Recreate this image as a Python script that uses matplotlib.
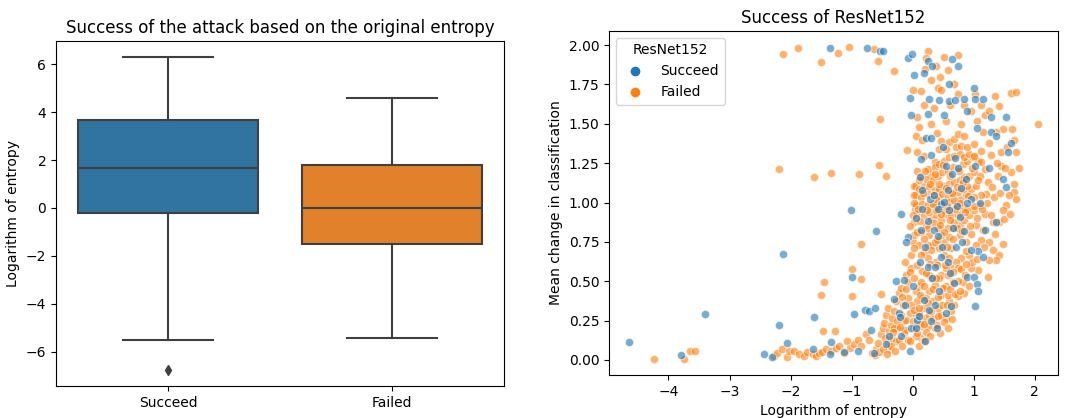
import matplotlib
matplotlib.use("Agg")
import matplotlib.pyplot as plt
from matplotlib.lines import Line2D
import numpy as np

# box summary of log-entropy per attack outcome
groups = ["Succeed", "Failed"]
box_med = [1.65, -0.02]
box_q1 = [-0.22, -1.50]
box_q3 = [3.68, 1.78]
box_low = [-5.50, -5.42]
box_high = [6.32, 4.58]
box_fliers = [[-6.78], []]

# (log entropy, mean change in classification) per image
succeed_pts = [
    (-4.64, 0.116), (-3.79, 0.03), (-3.40, 0.29), (-2.44, 0.036), (-2.31, 0.02), (-2.19, 0.225),
    (-2.12, 0.673), (-2.05, 0.11), (-1.64, 0.07), (-1.61, 0.27), (-1.35, 0.04), (-1.34, 0.115),
    (-1.13, 0.05), (-1.01, 0.95), (-1.00, 0.53), (-0.96, 0.295), (-0.89, 0.06), (-0.78, 0.315),
    (-0.71, 0.31), (-0.68, 0.19), (-0.60, 0.82), (-0.61, 0.33), (-1.36, 1.98), (-0.74, 1.98),
    (-0.53, 1.96), (-0.49, 1.96), (-0.08, 1.92), (-0.01, 1.945), (0.02, 1.81), (0.18, 1.82),
    (0.26, 1.90), (0.32, 1.87), (0.65, 1.91), (0.74, 1.87), (-0.04, 1.665), (-0.03, 1.556),
    (0.25, 1.56), (0.27, 1.655), (0.43, 1.65), (0.59, 1.645), (0.70, 1.65), (0.60, 1.755),
    (0.84, 1.655), (1.00, 1.73), (1.02, 1.655), (1.16, 1.655), (0.90, 1.58), (0.52, 1.556),
    (0.22, 1.41), (0.31, 1.41), (1.05, 1.47), (1.29, 1.54), (1.53, 1.545), (1.29, 1.445),
    (1.37, 1.425), (1.62, 1.38), (1.57, 1.32), (0.14, 1.275), (0.12, 1.16), (0.64, 1.18),
    (1.02, 1.235), (1.53, 1.10), (1.48, 1.15), (-0.19, 0.93), (-0.08, 0.78), (0.16, 0.96),
    (0.47, 0.99), (0.78, 0.91), (0.96, 1.02), (1.18, 0.825), (1.37, 0.875), (1.07, 0.69),
    (1.15, 0.655), (0.71, 0.72), (0.81, 0.75), (0.35, 0.825), (0.41, 0.79), (0.25, 0.59),
    (0.36, 0.59), (0.47, 0.655), (0.58, 0.625), (0.90, 0.53), (1.01, 0.53), (1.06, 0.48),
    (1.07, 0.435), (1.02, 0.34), (-0.27, 0.50), (-0.14, 0.51), (0.00, 0.47), (-0.30, 0.39),
    (-0.22, 0.30), (-0.21, 0.27), (-0.19, 0.15), (-0.03, 0.20), (0.08, 0.255), (0.30, 0.245),
    (0.27, 0.32), (0.36, 0.35), (0.44, 0.435), (0.55, 0.30), (0.63, 0.34), (0.68, 0.49),
    (-0.63, 0.046), (-0.44, 0.10), (-0.38, 0.15), (0.29, 1.02), (0.52, 1.005), (0.80, 1.09),
    (0.90, 1.00), (0.14, 0.825), (0.88, 1.15), (0.70, 1.28), (0.35, 1.05), (0.60, 0.95),
    (1.25, 1.22), (0.55, 1.23), (0.12, 0.62), (0.20, 0.72), (-0.10, 0.75), (0.05, 0.20),
    (0.05, 0.90), (0.15, 1.08), (0.25, 0.88), (0.42, 0.96), (0.48, 0.72), (0.58, 1.08),
    (0.66, 0.84), (0.72, 0.98), (0.85, 0.82), (0.95, 0.70), (0.32, 0.52), (0.18, 0.38),
    (0.10, 0.28), (-0.12, 0.35), (0.40, 0.20), (0.62, 0.55), (0.75, 1.22), (1.10, 1.00),
    (0.30, 1.30), (0.50, 1.35), (0.20, 0.12), (-0.05, 0.06),
]

failed_pts = [
    (-4.23, 0.008), (-3.74, 0.004), (-3.64, 0.06), (-3.56, 0.057), (-2.13, 1.943), (-1.87, 1.98),
    (-1.50, 1.895), (-1.23, 1.95), (-1.05, 1.99), (-0.63, 1.975), (-0.56, 1.897), (-0.31, 1.834),
    (-2.19, 1.21), (-1.61, 1.16), (-1.34, 1.186), (-0.88, 1.178), (-0.55, 1.24), (-0.44, 1.167),
    (-0.53, 1.533), (-0.84, 0.736), (-0.99, 0.578), (-0.84, 0.517), (-1.45, 0.498), (-1.50, 0.414),
    (-1.00, 0.404), (-1.47, 0.183), (-1.27, 0.183), (-0.52, 0.42),
    (-2.27, 0.025), (-2.22, 0.046), (-2.14, 0.067), (-2.05, 0.02), (-2.03, 0.057), (-1.95, 0.057),
    (-1.86, 0.036), (-1.78, 0.025), (-1.73, 0.05), (-1.64, 0.036), (-1.59, 0.025), (-1.53, 0.046),
    (-1.48, 0.05), (-1.42, 0.067), (-1.34, 0.057), (-1.26, 0.078), (-1.21, 0.088), (-1.12, 0.046),
    (-1.08, 0.12), (-1.02, 0.078), (-0.96, 0.103), (-0.90, 0.124), (-0.84, 0.088), (-0.77, 0.162),
    (-0.71, 0.13), (-0.66, 0.046), (-0.60, 0.067), (-0.56, 0.109), (-0.52, 0.162), (-0.49, 0.204),
    (-0.47, 0.236), (-0.44, 0.288), (-0.41, 0.33), (-0.41, 0.109), (-0.38, 0.183), (-0.36, 0.225),
    (-0.33, 0.267), (-0.30, 0.309), (-0.27, 0.372), (-0.25, 0.204), (-0.22, 0.425), (-0.19, 0.456),
    (-0.16, 0.351), (-0.14, 0.246), (-0.12, 0.625), (-0.11, 0.54), (-0.08, 0.393), (-0.05, 0.299),
    (-0.03, 0.583), (-0.02, 0.667), (0.00, 0.75), (0.02, 0.793), (0.03, 0.877), (0.04, 0.961),
    (0.05, 1.045), (0.05, 1.108), (0.07, 1.203), (0.05, 1.424), (0.07, 1.54), (0.14, 1.708),
    (0.00, 1.712), (0.08, 1.319), (0.19, 1.298), (-0.09, 1.333), (0.30, 1.175), (0.36, 1.256),
    (0.44, 1.34), (0.41, 1.729), (0.47, 1.712), (0.26, 1.96), (0.22, 1.918), (0.38, 1.865),
    (0.52, 1.924), (0.58, 1.844), (0.74, 1.939), (0.68, 1.754), (0.74, 1.687), (0.85, 1.617),
    (1.02, 1.687), (1.12, 1.617), (1.18, 1.554), (1.26, 1.58), (1.35, 1.676), (1.42, 1.61),
    (1.62, 1.697), (1.70, 1.701), (2.05, 1.497), (1.48, 1.466), (1.63, 1.466), (1.26, 1.38),
    (1.45, 1.319), (1.67, 1.40), (1.70, 1.319), (1.75, 1.218), (1.62, 1.192), (1.67, 1.119),
    (1.67, 1.066), (1.70, 1.024), (1.53, 0.982), (1.48, 0.951), (1.34, 1.035), (1.20, 1.056),
    (1.23, 1.129), (1.40, 1.171), (1.45, 1.234), (1.42, 0.877), (1.50, 0.898), (1.32, 0.877),
    (1.18, 0.93), (1.15, 0.826), (1.12, 0.761), (1.26, 0.751), (1.32, 0.698), (1.48, 0.734),
    (1.42, 0.667), (1.37, 0.635), (1.26, 0.635), (1.23, 0.53), (1.07, 0.572), (0.96, 0.583),
    (0.82, 0.498), (0.85, 0.425), (0.74, 0.404), (0.68, 0.351), (0.60, 0.372), (0.55, 0.267),
    (0.63, 0.309), (0.47, 0.288), (0.36, 0.204), (0.25, 0.215), (0.14, 0.141), (0.14, 0.215),
    (0.03, 0.204), (0.05, 0.288), (0.19, 0.267), (0.19, 0.33), (0.16, 0.393), (0.27, 0.435),
    (0.36, 0.477), (0.47, 0.54), (0.55, 0.467), (0.44, 0.519), (0.30, 0.519), (0.16, 0.562),
    (0.11, 0.467), (0.08, 0.372), (0.33, 0.73), (0.44, 0.709), (0.52, 0.751), (0.60, 0.782),
    (0.68, 0.835), (0.77, 0.856), (0.85, 0.888), (0.93, 0.919), (1.01, 0.951), (1.04, 0.856),
    (0.96, 0.803), (0.88, 0.751), (0.79, 0.646), (0.71, 0.625), (0.63, 0.583), (0.58, 0.54),
    (0.93, 0.667), (1.04, 0.73), (0.19, 0.688), (0.25, 0.646), (0.11, 0.73), (0.14, 0.814),
    (0.22, 0.856), (0.30, 0.898), (0.38, 0.919), (0.47, 0.888), (0.55, 0.93), (0.63, 0.961),
    (0.71, 0.993), (0.79, 1.024), (0.88, 1.056), (0.96, 1.087), (1.04, 1.108), (1.12, 1.045),
    (1.10, 0.982), (1.01, 1.035),
    (0.03, 1.108), (0.11, 1.087), (0.19, 1.108), (0.27, 1.098), (0.36, 1.077), (0.44, 1.087),
    (0.52, 1.108), (0.60, 1.119), (0.68, 1.129), (0.77, 1.140), (0.85, 1.161), (0.93, 1.171),
    (1.01, 1.192), (1.10, 1.171), (1.18, 1.213),
    (0.03, 1.045), (0.14, 1.035), (0.25, 1.056), (0.33, 1.045), (0.41, 1.035), (0.49, 1.056),
    (0.58, 1.035), (0.66, 1.056), (0.74, 1.066), (0.82, 1.087), (0.90, 1.108),
    (0.05, 0.982), (0.16, 0.993), (0.25, 0.982), (0.36, 0.982), (0.44, 0.961), (0.52, 0.951),
    (0.60, 1.003), (0.68, 1.014), (0.77, 0.951), (0.85, 0.972),
    (0.08, 0.930), (0.19, 0.919), (0.27, 0.940), (0.38, 0.951), (0.47, 0.930), (0.63, 0.919),
    (0.74, 0.919), (0.90, 0.961),
    (0.14, 1.171), (0.22, 1.150), (0.33, 1.140), (0.41, 1.171), (0.49, 1.192), (0.58, 1.203),
    (0.66, 1.224), (0.74, 1.213), (0.82, 1.245), (0.90, 1.266), (0.99, 1.287), (1.07, 1.266),
    (0.25, 1.213), (0.36, 1.224), (0.44, 1.245), (0.52, 1.266), (0.60, 1.287), (0.68, 1.298),
    (0.77, 1.308), (0.85, 1.287), (0.93, 1.308), (1.01, 1.298), (1.12, 1.256),
    (0.47, 1.392), (0.60, 1.382), (0.68, 1.403), (0.74, 1.434), (0.71, 1.350), (0.55, 1.340),
    (0.79, 1.361), (0.90, 1.350), (1.01, 1.371), (1.12, 1.329),
    (0.03, 0.709), (0.14, 0.667), (0.25, 0.730), (0.36, 0.751), (0.47, 0.793), (0.58, 0.835),
    (0.68, 0.877), (0.77, 0.793), (0.41, 0.835), (0.27, 0.793), (0.52, 0.667), (0.63, 0.709),
    (0.74, 0.583), (0.66, 0.498), (0.55, 0.583), (0.38, 0.625), (0.27, 0.540), (0.14, 0.498),
    (0.05, 0.435), (0.22, 0.393), (0.33, 0.372), (0.47, 0.414), (0.58, 0.414), (0.41, 0.330),
    (0.27, 0.288), (0.49, 0.351), (-0.08, 0.498), (-0.03, 0.351), (-0.11, 0.257), (-0.19, 0.288),
    (-0.25, 0.246), (-0.30, 0.204), (-0.33, 0.141), (-0.38, 0.067), (-0.27, 0.120), (-0.14, 0.172),
    (-0.08, 0.130), (0.05, 0.151), (0.11, 0.088),
    (-0.62, 0.03), (-0.55, 0.05), (-0.48, 0.07), (-0.42, 0.04), (-0.35, 0.09), (-0.28, 0.06),
    (-0.22, 0.13), (-0.17, 0.09), (-0.12, 0.19), (-0.05, 0.12), (0.00, 0.25), (0.08, 0.17),
    (0.12, 0.23), (0.18, 0.12), (0.22, 0.18), (0.28, 0.15), (0.33, 0.26), (0.40, 0.22),
    (0.45, 0.17), (0.52, 0.24), (0.58, 0.20), (0.65, 0.26), (-0.45, 0.14), (-0.32, 0.18),
    (-0.20, 0.21), (0.10, 0.30), (0.30, 0.31), (0.42, 0.28), (0.18, 0.23), (0.02, 0.32),
    (-0.18, 0.40), (-0.10, 0.45), (-0.05, 0.56), (0.02, 0.52), (0.07, 0.60), (0.12, 0.41),
    (0.18, 0.47), (0.22, 0.55), (0.28, 0.61), (0.33, 0.45), (0.38, 0.52), (0.42, 0.40),
    (0.50, 0.46), (0.53, 0.60), (0.57, 0.35), (0.62, 0.45), (0.66, 0.56), (0.70, 0.42),
    (0.75, 0.50), (0.80, 0.58), (0.86, 0.54), (0.92, 0.47), (0.97, 0.62), (1.05, 0.64),
    (0.10, 0.33), (0.25, 0.36), (0.40, 0.60), (0.60, 0.65), (0.78, 0.44), (0.88, 0.61),
    (-0.05, 0.85), (0.00, 0.92), (0.02, 1.00), (0.07, 0.81), (0.09, 0.96), (0.10, 1.14),
    (0.12, 0.88), (0.17, 1.06), (0.18, 0.77), (0.21, 1.20), (0.23, 0.95), (0.26, 0.84),
    (0.29, 1.12), (0.31, 0.70), (0.33, 0.99), (0.35, 0.87), (0.37, 1.18), (0.39, 1.02),
    (0.40, 0.76), (0.43, 1.12), (0.45, 0.86), (0.48, 1.00), (0.50, 1.24), (0.51, 0.81),
    (0.54, 1.09), (0.56, 0.72), (0.57, 0.98), (0.61, 1.17), (0.62, 0.89), (0.64, 1.06),
    (0.66, 0.77), (0.69, 0.96), (0.72, 1.10), (0.73, 0.84), (0.76, 1.20), (0.78, 1.00),
    (0.81, 0.82), (0.83, 1.13), (0.86, 0.94), (0.88, 0.69), (0.91, 1.04), (0.94, 0.85),
    (0.97, 1.22), (1.00, 0.98), (1.05, 0.90), (1.08, 1.14), (1.14, 0.96), (1.17, 0.72),
    (1.22, 1.00), (1.28, 0.92), (1.30, 1.10), (1.35, 0.80), (1.38, 1.25), (1.44, 1.06),
    (1.52, 1.22), (1.58, 1.05), (1.60, 0.93), (1.28, 1.30), (1.36, 1.45), (1.55, 1.35),
    (0.10, 1.48), (0.18, 1.62), (0.30, 1.50), (0.35, 1.60), (0.40, 1.44), (0.55, 1.52),
    (0.62, 1.62), (0.80, 1.50), (0.95, 1.58), (1.05, 1.52), (0.20, 1.85), (0.30, 1.78),
    (0.45, 1.80), (0.15, 1.40), (0.85, 1.42), (1.15, 1.45),
]

box_colors = ["#3274a1", "#e1812c"]
line_gray = "#3f3f3f"
blue = "#1f77b4"
orange = "#ff7f0e"

fig = plt.figure(figsize=(10.81, 4.18), dpi=100)
ax1 = fig.add_axes([0.0518, 0.0766, 0.4144, 0.8254])
ax2 = fig.add_axes([0.5634, 0.1029, 0.4154, 0.8230])

# left: boxplot from precomputed stats
stats = []
for i, name in enumerate(groups):
    stats.append(dict(label=name, med=box_med[i], q1=box_q1[i], q3=box_q3[i],
                      whislo=box_low[i], whishi=box_high[i], fliers=box_fliers[i]))
bp = ax1.bxp(stats, positions=[0, 1], widths=0.8, capwidths=0.4, patch_artist=True,
             boxprops=dict(edgecolor=line_gray, linewidth=1.5),
             medianprops=dict(color=line_gray, linewidth=1.5),
             whiskerprops=dict(color=line_gray, linewidth=1.5),
             capprops=dict(color=line_gray, linewidth=1.5),
             flierprops=dict(marker="d", markerfacecolor=line_gray, markeredgecolor=line_gray,
                             markersize=5))
for patch, c in zip(bp["boxes"], box_colors):
    patch.set_facecolor(c)
ax1.set_xlim(-0.5, 1.5)
ax1.set_xticks([0, 1])
ax1.set_xticklabels(groups)
ax1.set_ylabel("Logarithm of entropy")
ax1.set_title("Success of the attack based on the original entropy", fontsize=12)

# right: scatter of entropy vs classification change
sx, sy = np.array(succeed_pts).T
fx, fy = np.array(failed_pts).T
ax2.scatter(fx, fy, s=36, color=orange, alpha=0.6, edgecolors="white", linewidths=0.75)
ax2.scatter(sx, sy, s=36, color=blue, alpha=0.6, edgecolors="white", linewidths=0.75)
ax2.set_xlabel("Logarithm of entropy")
ax2.set_ylabel("Mean change in classification")
ax2.set_title("Success of ResNet152", fontsize=12)
handles = [Line2D([], [], marker="o", linestyle="", color=blue, markeredgecolor="white",
                  markersize=8, label="Succeed"),
           Line2D([], [], marker="o", linestyle="", color=orange, markeredgecolor="white",
                  markersize=8, label="Failed")]
ax2.legend(handles=handles, title="ResNet152", loc="upper left")

fig.savefig("out.png", dpi=100)
